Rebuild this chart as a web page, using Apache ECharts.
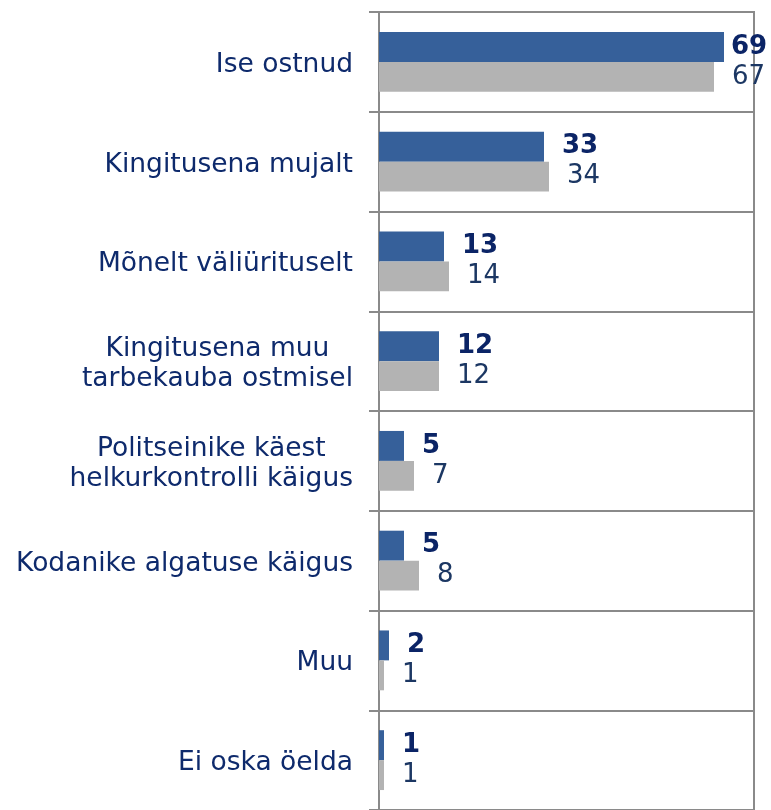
<!DOCTYPE html>
<html>
<head>
<meta charset="utf-8">
<script src="https://cdn.jsdelivr.net/npm/echarts@6/dist/echarts.min.js"></script>
<style>
    html, body { margin: 0; padding: 0; background: #fff; }
    #chart { width: 771px; height: 810px; }
</style>
</head>
<body>
<div id="chart"></div>
<script>
    // kategooriad (ülevalt alla)
    var categories = [
        'Ise ostnud',
        'Kingitusena mujalt',
        'Mõnelt väliürituselt',
        'Kingitusena muu\ntarbekauba ostmisel',
        'Politseinike käest\nhelkurkontrolli käigus',
        'Kodanike algatuse käigus',
        'Muu',
        'Ei oska öelda'
    ];
    var seriesNew = [69, 33, 13, 12, 5, 5, 2, 1];
    var seriesOld = [67, 34, 14, 12, 7, 8, 1, 1];

    var gridColor = '#8a8a8a';
    var navy = '#0e2a6c';

    var myChart = echarts.init(document.getElementById('chart'));

    // pikima riba silt mahub napilt ära, seepärast lähemale
    var newData = seriesNew.map(function (v) {
        return v > 65 ? { value: v, label: { distance: 7 } } : v;
    });

    myChart.setOption({
        animation: false,
        grid: {
            left: 379,
            right: 17,
            top: 12,
            bottom: -2,
            show: true,
            borderColor: gridColor,
            borderWidth: 2
        },
        xAxis: {
            type: 'value',
            min: 0,
            max: 75,
            show: false
        },
        yAxis: {
            type: 'category',
            inverse: true,
            data: categories,
            axisLine: { lineStyle: { color: gridColor, width: 2 } },
            axisTick: { show: true, length: 10, lineStyle: { color: gridColor, width: 2 } },
            splitLine: { show: true, lineStyle: { color: gridColor, width: 2 } },
            axisLabel: {
                margin: 26,
                align: 'right',
                padding: [6, 0, 0, 0],
                fontFamily: 'DejaVu Sans',
                fontSize: 26.5,
                color: navy,
                lineHeight: 30,
                formatter: function (s) {
                    // mitmerealised sildid on ploki sees keskel
                    return s.split('\n').map(function (l) { return '{c|' + l + '}'; }).join('\n');
                },
                rich: {
                    c: {
                        align: 'center',
                        fontFamily: 'DejaVu Sans',
                        fontSize: 26.5,
                        color: navy,
                        lineHeight: 30
                    }
                }
            }
        },
        series: [
            {
                name: 'uus',
                type: 'bar',
                data: newData,
                barGap: '0%',
                barCategoryGap: '40%',
                itemStyle: { color: '#36609a' },
                label: {
                    show: true,
                    position: 'right',
                    distance: 18,
                    padding: [3, 0, 0, 0],
                    fontFamily: 'DejaVu Sans',
                    fontSize: 26,
                    fontWeight: 'bold',
                    color: '#0b2466'
                }
            },
            {
                name: 'vana',
                type: 'bar',
                data: seriesOld,
                barGap: '0%',
                barCategoryGap: '40%',
                itemStyle: { color: '#b3b3b3' },
                label: {
                    show: true,
                    position: 'right',
                    distance: 18,
                    padding: [5, 0, 0, 0],
                    fontFamily: 'DejaVu Sans',
                    fontSize: 26,
                    color: '#1c3763'
                }
            }
        ]
    });
</script>
</body>
</html>
